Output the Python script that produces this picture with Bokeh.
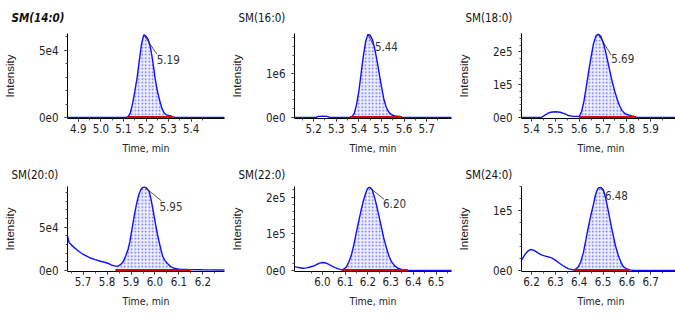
import numpy as np
from bokeh.plotting import figure
from bokeh.layouts import gridplot
from bokeh.models import FixedTicker, PrintfTickFormatter, CustomJSTickFormatter, Range1d
from bokeh.embed import file_html
from bokeh.resources import INLINE
from bokeh.core.properties import value

# ---------------- data ----------------
titles = ["SM(14:0)", "SM(16:0)", "SM(18:0)", "SM(20:0)", "SM(22:0)", "SM(24:0)"]
rt_labels = ["5.19", "5.44", "5.69", "5.95", "6.20", "6.48"]

t_140 = [4.84, 5.11, 5.12, 5.13, 5.14, 5.15, 5.16, 5.17, 5.18, 5.19, 5.20, 5.21, 5.22, 5.23,
         5.24, 5.25, 5.26, 5.27, 5.28, 5.29, 5.30, 5.31, 5.32, 5.33, 5.56]
i_140 = [0, 0, 400, 3000, 10000, 19000, 29000, 42000, 54500, 61500, 60500, 58000, 52000, 42000,
         29500, 20000, 13000, 7000, 3500, 2000, 1500, 1200, 500, 0, 0]

t_160 = [5.10, 5.21, 5.22, 5.24, 5.26, 5.27, 5.36, 5.37, 5.38, 5.39, 5.40, 5.41, 5.42, 5.43,
         5.44, 5.45, 5.46, 5.47, 5.48, 5.49, 5.50, 5.51, 5.52, 5.53, 5.54, 5.55, 5.56, 5.57,
         5.58, 5.59, 5.85]
i_160 = [0, 0, 25000, 30000, 25000, 0, 0, 20000, 100000, 300000, 600000, 1000000, 1400000,
         1720000, 1880000, 1860000, 1760000, 1560000, 1300000, 1000000, 700000, 430000, 250000,
         140000, 80000, 50000, 35000, 30000, 25000, 0, 0]

t_180 = [5.34, 5.44, 5.45, 5.46, 5.47, 5.48, 5.50, 5.52, 5.54, 5.555, 5.57, 5.59, 5.60, 5.61,
         5.62, 5.63, 5.64, 5.65, 5.66, 5.67, 5.68, 5.69, 5.70, 5.71, 5.72, 5.73, 5.74, 5.75,
         5.76, 5.77, 5.78, 5.79, 5.80, 5.81, 5.82, 5.83, 5.84, 5.85, 6.05]
i_180 = [0, 0, 4000, 9000, 13000, 16000, 17500, 16000, 11000, 6000, 4000, 3500, 3000, 18000,
         50000, 95000, 142000, 185000, 225000, 248000, 254000, 248000, 230000, 203000, 170000,
         137000, 105000, 78000, 54000, 35000, 21000, 13000, 9000, 7000, 5000, 3000, 1000, 0, 0]

t_200 = [5.62, 5.635, 5.642, 5.662, 5.68, 5.697, 5.715, 5.731, 5.75, 5.772, 5.79, 5.806, 5.82,
         5.835, 5.847, 5.857, 5.867, 5.877, 5.888, 5.895, 5.901, 5.908, 5.915, 5.922, 5.929,
         5.936, 5.942, 5.95, 5.956, 5.963, 5.970, 5.976, 5.983, 5.990, 5.997, 6.004, 6.011,
         6.018, 6.025, 6.031, 6.040, 6.052, 6.065, 6.079, 6.095, 6.106, 6.15, 6.20, 6.30]
i_200 = [45000, 39500, 32000, 26700, 22500, 19300, 16500, 14400, 12500, 10700, 9500, 8100, 6000,
         5000, 5200, 7000, 10000, 16000, 24800, 33000, 43000, 54000, 65500, 75500, 84000,
         90000, 94000, 96000, 96500, 95500, 93500, 91000, 83000, 73000, 62000, 50800, 41000,
         32200, 24000, 17400, 12000, 8100, 4500, 2600, 1800, 1500, 1000, 800, 500]

t_220 = [5.86, 5.878, 5.895, 5.914, 5.93, 5.942, 5.957, 5.971, 5.985, 6.0, 6.014, 6.028, 6.042,
         6.056, 6.07, 6.085, 6.095, 6.106, 6.116, 6.127, 6.138, 6.149, 6.160, 6.170, 6.180,
         6.191, 6.198, 6.205, 6.212, 6.219, 6.229, 6.240, 6.251, 6.262, 6.272, 6.283, 6.293,
         6.304, 6.318, 6.332, 6.35, 6.375, 6.60]
i_220 = [11000, 10500, 8000, 6100, 7000, 8800, 11500, 15000, 19500, 21900, 20500, 16700, 12000,
         7900, 4500, 1800, 4000, 10500, 23000, 41300, 70000, 103000, 135000, 164000, 190000,
         212000, 223000, 227000, 225000, 220000, 200000, 173000, 142000, 111000, 83000, 59000,
         39000, 24000, 12500, 6100, 2500, 0, 0]

t_240 = [6.15, 6.158, 6.167, 6.175, 6.185, 6.195, 6.205, 6.216, 6.23, 6.244, 6.258, 6.272,
         6.286, 6.3, 6.314, 6.328, 6.342, 6.355, 6.376, 6.387, 6.397, 6.407, 6.418, 6.428,
         6.439, 6.450, 6.460, 6.467, 6.474, 6.480, 6.487, 6.494, 6.501, 6.511, 6.522, 6.532,
         6.543, 6.553, 6.564, 6.575, 6.585, 6.6, 6.613, 6.63, 6.85]
i_240 = [15000, 17300, 23000, 28000, 32500, 35000, 34500, 32300, 28500, 25800, 24000, 22600,
         20500, 17300, 13000, 9200, 5500, 2700, 1100, 2500, 6500, 15000, 30600, 51000,
         73700, 94000, 111000, 124000, 133000, 137500, 139000, 138000, 135000, 121000, 100000,
         79000, 58000, 40000, 25000, 14000, 6500, 2500, 1100, 0, 0]

# integration window (red baseline) start / end
win_start = [5.12, 5.36, 5.60, 5.835, 6.085, 6.376]
win_end = [5.32, 5.59, 5.84, 6.15, 6.375, 6.613]

x_ticks = [[4.9, 5.0, 5.1, 5.2, 5.3, 5.4],
           [5.2, 5.3, 5.4, 5.5, 5.6, 5.7],
           [5.4, 5.5, 5.6, 5.7, 5.8, 5.9],
           [5.7, 5.8, 5.9, 6.0, 6.1, 6.2],
           [6.0, 6.1, 6.2, 6.3, 6.4, 6.5],
           [6.2, 6.3, 6.4, 6.5, 6.6, 6.7]]
y_ticks = [[0, 50000], [0, 1000000], [0, 100000, 200000],
           [0, 50000], [0, 100000, 200000], [0, 100000]]

series = [(t_140, i_140), (t_160, i_160), (t_180, i_180),
          (t_200, i_200), (t_220, i_220), (t_240, i_240)]

# ---------------- layout / style ----------------
x_ranges = [(4.852, 5.548), (5.115, 5.81), (5.358, 6.025),
            (5.635, 6.29), (5.877, 6.568), (6.158, 6.825)]
y_tops = [62500, 1900000, 256000, 97000, 229000, 140300]
frame_w = [157, 157, 159]
right_b = [3, 3, 0]
row_top = [32, 30]
row_bottom = [38, 36]
title_standoff = [17, 9]
FH = 85
lead_off = [(13, 19), (5, 10), (13, 21), (17, 14), (15, 12), (5, 6)]
lab_off = [(13, 20), (7, 8), (13, 20), (15, 15), (14, 12), (5, 4)]

NARROW = "'Liberation Sans Narrow', 'Arial Narrow', 'DejaVu Sans Condensed', 'Liberation Sans', sans-serif"
REG = "Liberation Sans"

fmt = CustomJSTickFormatter(code="""
if (tick == 0) { return "0e0"; }
const e = Math.floor(Math.log10(Math.abs(tick)) + 1e-9);
const m = Math.round(tick / Math.pow(10, e));
return m + "e" + e;
""")

figs = []
for i in range(6):
    r, c = divmod(i, 3)
    x0, x1 = x_ranges[i]
    ytop = y_tops[i]
    y0 = -0.012 * ytop
    fw = frame_w[c]
    p = figure(frame_width=fw, frame_height=FH,
               x_range=Range1d(x0, x1), y_range=Range1d(y0, ytop),
               output_backend="svg", toolbar_location=None,
               min_border_left=60, min_border_right=right_b[c],
               min_border_top=row_top[r], min_border_bottom=row_bottom[r])
    p.outline_line_color = None
    p.xgrid.visible = False
    p.ygrid.visible = False
    p.background_fill_color = "white"
    p.border_fill_color = "white"

    # title
    p.title.text = titles[i]
    p.title.align = "left"
    p.title.offset = -56
    p.title.standoff = title_standoff[r]
    p.title.text_font = NARROW
    p.title.text_font_size = "11.5px"
    p.title.text_color = "#111111"
    p.title.text_font_style = "bold italic" if i == 0 else "normal"

    # axes
    xt = x_ticks[i]
    xminor = [round(v + 0.05, 3) for v in [xt[0] - 0.1] + xt]
    p.xaxis.ticker = FixedTicker(ticks=xt, minor_ticks=xminor + xt)
    p.xaxis.formatter = PrintfTickFormatter(format="%.1f")
    yt = y_ticks[i]
    step = yt[1] / 5.0
    yminor = list(np.arange(0, ytop, step))
    p.yaxis.ticker = FixedTicker(ticks=yt, minor_ticks=yminor)
    p.yaxis.formatter = fmt

    for ax in (p.xaxis, p.yaxis):
        ax.axis_line_color = "black"
        ax.major_tick_line_color = "black"
        ax.minor_tick_line_color = "#555555"
        ax.major_tick_out = 3
        ax.major_tick_in = 0
        ax.minor_tick_out = 2
        ax.minor_tick_in = 0
        ax.major_label_text_font = NARROW
        ax.major_label_text_font_size = "11.5px"
        ax.major_label_text_color = "#222222"
        ax.axis_label_text_font_style = "normal"
        ax.axis_label_text_color = "#222222"
    p.xaxis.major_label_standoff = 2
    p.xaxis.axis_label = "Time, min"
    p.xaxis.axis_label_text_font = NARROW
    p.xaxis.axis_label_text_font_size = "10.5px"
    p.xaxis.axis_label_standoff = 6
    p.yaxis.major_label_standoff = 6
    p.yaxis.axis_label = "Intensity"
    p.yaxis.axis_label_text_font = REG
    p.yaxis.axis_label_text_font_size = "11.5px"
    p.yaxis.axis_label_standoff = 20

    tx, iy = series[i]
    tx = np.array(tx)
    iy = np.array(iy, dtype=float)
    ws, we = win_start[i], win_end[i]
    m = (tx >= ws - 1e-9) & (tx <= we + 1e-9)
    # hatched peak area
    p.varea(x=tx[m], y1=np.zeros(m.sum()), y2=iy[m], fill_color="#eef0ff", fill_alpha=1.0,
            hatch_pattern="dot", hatch_color="#3a3aff", hatch_scale=3.5, hatch_weight=0.9,
            hatch_alpha=0.75)
    # trace
    p.line(tx, iy, line_color="#1010ff", line_width=1.4)
    # integration baseline
    p.line([ws, we], [0, 0], line_color="#d80000", line_width=2.8)

    # apex annotation
    k = int(np.argmax(iy))
    px, py = tx[k], iy[k]
    xs_per_px = (x1 - x0) / fw
    ys_per_px = (ytop - y0) / FH
    lx, ly = lead_off[i]
    p.segment(x0=[px], y0=[py], x1=[px + lx * xs_per_px], y1=[py - ly * ys_per_px],
              line_color="#222222", line_width=0.8)
    tx_off, ty_off = lab_off[i]
    p.text(x=[px], y=[py], text=[rt_labels[i]], x_offset=tx_off, y_offset=ty_off,
           text_align="left", text_baseline="top", text_font=value(NARROW),
           text_font_size="11.5px", text_color="#333333")
    figs.append(p)

grid = gridplot([figs[0:3], figs[3:6]], toolbar_location=None)
open("out.html", "w").write(file_html(grid, INLINE))
